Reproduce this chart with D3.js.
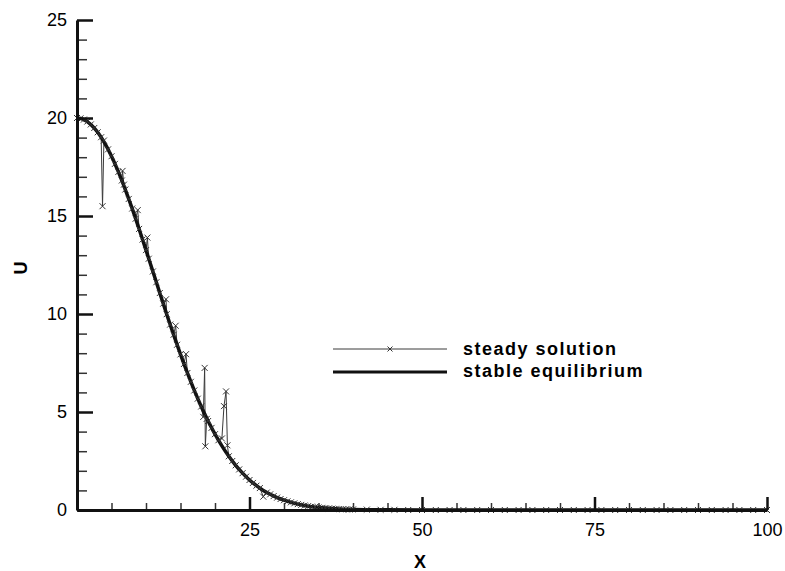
<!DOCTYPE html>
<html>
<head>
<meta charset="utf-8">
<script src="https://cdn.jsdelivr.net/npm/d3@7"></script>
<style>
  body { margin: 0; background: #fff; }
  text { font-family: "Liberation Sans", Arial, Helvetica, sans-serif; fill: #000; }
</style>
</head>
<body>
<div id="chart"></div>
<script>
"use strict";

// stable equilibrium (thick line)
var eqX = [0, 1, 2, 3, 4, 5, 6, 7, 8, 9, 10, 11, 12, 13, 14, 15, 16, 17, 18, 19, 20,
  21, 22, 23, 24, 25, 26, 27, 28, 29, 30, 32, 34, 36, 38, 40, 45, 50, 60, 70, 80, 90, 100];
var eqU = [20, 19.92, 19.67, 19.27, 18.73, 18.05, 17.25, 16.35, 15.38, 14.34, 13.26, 12.17, 11.07, 9.99, 8.94, 7.94, 6.99, 6.10, 5.28, 4.54, 3.87,
  3.27, 2.74, 2.28, 1.88, 1.53, 1.24, 1.00, 0.80, 0.63, 0.50, 0.30, 0.17, 0.10, 0.05, 0.03, 0.01, 0, 0, 0, 0, 0, 0];

// steady solution (thin line with x markers)
var steadyX = [
  0, 0.5, 1, 1.5, 2, 2.5, 3, 3.5, 3.7, 3.9,
  4.5, 5, 5.5, 6, 6.5, 6.6, 6.8, 7, 7.5, 8,
  8.5, 8.8, 9, 9.5, 10, 10.2, 10.4, 11, 11.5, 12,
  12.5, 12.9, 13, 13.5, 14, 14.3, 14.5, 15, 15.5, 15.8,
  16, 16.5, 17, 17.5, 18, 18.3, 18.5, 18.6, 18.8, 19,
  19.5, 20, 20.5, 21, 21.3, 21.6, 21.8, 22, 22.5, 23,
  23.5, 24, 24.5, 25, 25.5, 26, 26.5, 27, 27.5, 28,
  28.5, 29, 29.5, 30, 30.5, 31, 31.5, 32, 32.5, 33,
  33.5, 34, 34.5, 35, 35.5, 36, 36.5, 37, 37.5, 38,
  38.5, 39, 39.5, 40, 42, 44, 46, 48, 50, 52,
  54, 56, 58, 60, 62, 64, 66, 68, 70, 72,
  74, 76, 78, 80, 82, 84, 86, 88, 90, 92,
  94, 96, 98, 100];
var steadyU = [
  20.0, 19.98, 19.92, 19.82, 19.67, 19.49, 19.27, 19.02, 15.5, 18.85,
  18.40, 18.05, 17.66, 17.25, 16.81, 17.3, 16.6, 16.35, 15.87, 15.38,
  14.86, 15.3, 14.34, 13.80, 13.26, 13.9, 12.82, 12.17, 11.62, 11.07,
  10.53, 10.75, 9.99, 9.46, 8.94, 9.4, 8.43, 7.94, 7.45, 7.95,
  6.99, 6.54, 6.10, 5.68, 5.28, 4.75, 7.25, 3.25, 4.65, 4.54,
  4.19, 3.87, 3.56, 3.65, 5.3, 6.05, 3.3, 2.74, 2.50, 2.28,
  2.07, 1.88, 1.70, 1.53, 1.38, 1.24, 1.12, 0.68, 0.89, 0.80,
  0.71, 0.63, 0.56, 0.50, 0.44, 0.39, 0.34, 0.30, 0.26, 0.23,
  0.20, 0.17, 0.15, 0.13, 0.11, 0.10, 0.08, 0.07, 0.06, 0.05,
  0.04, 0.04, 0.03, 0.03, 0.02, 0.01, 0.01, 0, 0, 0,
  0, 0, 0, 0, 0, 0, 0, 0, 0, 0,
  0, 0, 0, 0, 0, 0, 0, 0, 0, 0,
  0, 0, 0, 0];

var xMajor = [25, 50, 75, 100];
var xMinor = [5, 10, 15, 20, 30, 35, 40, 45, 55, 60, 65, 70, 80, 85, 90, 95];
var yMajor = [0, 5, 10, 15, 20, 25];
var yMinor = [1, 2, 3, 4, 6, 7, 8, 9, 11, 12, 13, 14, 16, 17, 18, 19, 21, 22, 23, 24];
var seriesNames = ["steady solution", "stable equilibrium"];

var width = 785, height = 571;
var x = d3.scaleLinear().domain([0, 100]).range([77, 767]);
var y = d3.scaleLinear().domain([0, 25]).range([510, 20]);

var svg = d3.select("#chart").append("svg")
  .attr("width", width)
  .attr("height", height);

// minor ticks first
svg.append("g")
  .attr("transform", "translate(0,510)")
  .call(d3.axisBottom(x).tickValues(xMinor).tickSize(-7).tickSizeOuter(0).tickFormat(""))
  .call(function(g) {
    g.select(".domain").remove();
    g.selectAll("line").attr("stroke", "#333").attr("stroke-width", 1.5);
  });
svg.append("g")
  .attr("transform", "translate(77,0)")
  .call(d3.axisLeft(y).tickValues(yMinor).tickSize(-10).tickSizeOuter(0).tickFormat(""))
  .call(function(g) {
    g.select(".domain").remove();
    g.selectAll("line").attr("stroke", "#333").attr("stroke-width", 1.5);
  });

// data
var pts = steadyX.map(function(d, i) { return [d, steadyU[i]]; });
var eq = eqX.map(function(d, i) { return [d, eqU[i]]; });

svg.append("path")
  .datum(pts)
  .attr("fill", "none")
  .attr("stroke", "#3a3a3a")
  .attr("stroke-width", 1)
  .attr("d", d3.line().x(function(d) { return x(d[0]); }).y(function(d) { return y(d[1]); }));

svg.append("path")
  .datum(eq)
  .attr("fill", "none")
  .attr("stroke", "#111")
  .attr("stroke-width", 3.5)
  .attr("d", d3.line().curve(d3.curveMonotoneX).x(function(d) { return x(d[0]); }).y(function(d) { return y(d[1]); }));

var cross = "M-3,-3L3,3M-3,3L3,-3";
svg.append("g").selectAll("path")
  .data(pts)
  .enter()
  .append("path")
  .attr("transform", function(d) { return "translate(" + x(d[0]) + "," + y(d[1]) + ")"; })
  .attr("d", cross)
  .attr("stroke", "#333")
  .attr("stroke-width", 1)
  .attr("fill", "none");

// major axes
svg.append("g")
  .attr("transform", "translate(0,510)")
  .call(d3.axisBottom(x).tickValues(xMajor).tickSize(-13).tickSizeOuter(0).tickPadding(13))
  .call(function(g) {
    g.select(".domain").attr("stroke", "#111").attr("stroke-width", 3);
    g.selectAll("line").attr("stroke", "#111").attr("stroke-width", 2.5);
    g.selectAll("text").attr("font-size", 18).style("font-family", "'Liberation Sans', Arial, sans-serif");
  });
svg.append("g")
  .attr("transform", "translate(77,0)")
  .call(d3.axisLeft(y).tickValues(yMajor).tickSize(-16).tickSizeOuter(0).tickPadding(10))
  .call(function(g) {
    g.select(".domain").attr("stroke", "#111").attr("stroke-width", 3);
    g.selectAll("line").attr("stroke", "#111").attr("stroke-width", 2.5);
    g.selectAll("text").attr("font-size", 18).style("font-family", "'Liberation Sans', Arial, sans-serif");
  });

// axis titles
svg.append("text")
  .attr("x", 420)
  .attr("y", 568)
  .attr("text-anchor", "middle")
  .attr("font-size", 18)
  .attr("font-weight", "bold")
  .text("X");
svg.append("text")
  .attr("transform", "translate(27,268) rotate(-90)")
  .attr("text-anchor", "middle")
  .attr("font-size", 18)
  .attr("font-weight", "bold")
  .text("U");

// legend
var legend = svg.append("g");
legend.append("line")
  .attr("x1", 333).attr("x2", 447).attr("y1", 349).attr("y2", 349)
  .attr("stroke", "#3a3a3a").attr("stroke-width", 1);
legend.append("path")
  .attr("transform", "translate(390,349)")
  .attr("d", "M-2.5,-2.5L2.5,2.5M-2.5,2.5L2.5,-2.5")
  .attr("stroke", "#333").attr("fill", "none");
legend.append("line")
  .attr("x1", 333).attr("x2", 447).attr("y1", 372).attr("y2", 372)
  .attr("stroke", "#111").attr("stroke-width", 3.2);
legend.selectAll("text")
  .data(seriesNames)
  .enter()
  .append("text")
  .attr("x", 463)
  .attr("y", function(d, i) { return 355 + i * 22; })
  .attr("font-size", 18)
  .attr("font-weight", "bold")
  .attr("letter-spacing", 1.5)
  .text(function(d) { return d; });
</script>
</body>
</html>
